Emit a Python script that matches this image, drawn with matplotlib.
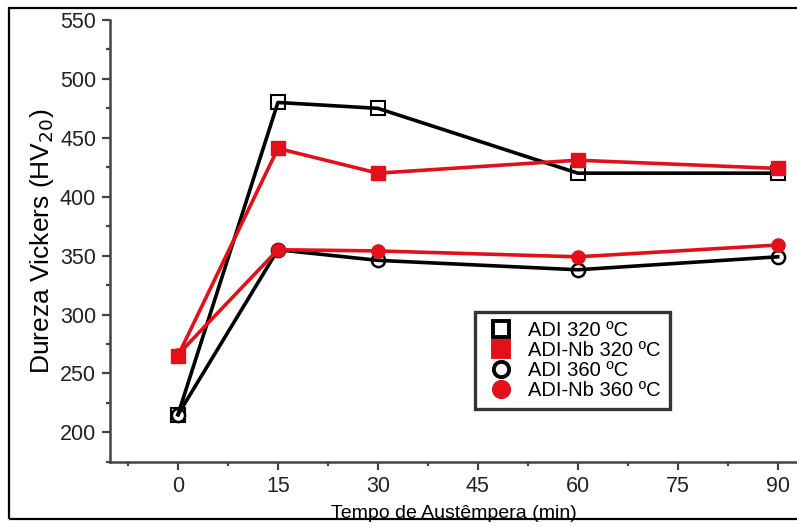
import numpy as np
import matplotlib
matplotlib.use("Agg")
import matplotlib.pyplot as plt
from matplotlib.patches import Rectangle
from matplotlib.ticker import MultipleLocator

plt.rcParams['font.family'] = ['Liberation Sans', 'DejaVu Sans']

# tempo de austêmpera (min) e dureza HV20
tempo = [0, 15, 30, 60, 90]
adi_320 = [215, 480, 475, 420, 420]
adi_nb_320 = [265, 441, 420, 431, 424]
adi_360 = [215, 355, 346, 338, 349]
adi_nb_360 = [266, 355, 354, 349, 359]

red = '#e3101a'

fig = plt.figure(figsize=(7.97, 5.26), dpi=100)
ax = fig.add_axes([0.138, 0.122, 0.862, 0.84])

ax.plot(tempo, adi_360, color='black', lw=2.6, marker='o', ms=9.5,
        mfc='none', mec='black', mew=1.8, label='ADI 360 ºC', zorder=3)
ax.plot(tempo, adi_320, color='black', lw=2.6, marker='s', ms=9.5,
        mfc='none', mec='black', mew=1.5, label='ADI 320 ºC', zorder=3)
ax.plot(tempo, adi_nb_360, color=red, lw=2.6, marker='o', ms=9.5,
        mfc=red, mec=red, label='ADI-Nb 360 ºC', zorder=4)
ax.plot(tempo, adi_nb_320, color=red, lw=2.6, marker='s', ms=9.5,
        mfc=red, mec=red, label='ADI-Nb 320 ºC', zorder=4)

ax.set_xlim(-10.2, 92.9)
ax.set_ylim(175, 550)
ax.xaxis.set_major_locator(MultipleLocator(15))
ax.xaxis.set_minor_locator(MultipleLocator(7.5))
ax.yaxis.set_major_locator(MultipleLocator(50))
ax.yaxis.set_minor_locator(MultipleLocator(25))
ax.set_yticks(np.arange(200, 551, 50))

for s in ['top', 'right']:
    ax.spines[s].set_visible(False)
for s in ['left', 'bottom']:
    ax.spines[s].set_color('#444444')
    ax.spines[s].set_linewidth(1.8)

ax.tick_params(which='major', direction='out', length=6, width=1.6,
               color='#444444', labelsize=15.5, labelcolor='#222222', pad=4)
ax.tick_params(which='minor', direction='out', length=3, width=1.6,
               color='#444444')

ax.set_xlabel('Tempo de Austêmpera (min)', fontsize=14, labelpad=6)
ax.set_ylabel('Dureza Vickers (HV$_{20}$)', fontsize=19, labelpad=3)

handles, labels = ax.get_legend_handles_labels()
order = [1, 3, 0, 2]
leg_handles = []
for i in order:
    h = handles[i]
    leg_handles.append(plt.Line2D([], [], ls='none', marker=h.get_marker(),
                                  ms=11, mfc=h.get_markerfacecolor(),
                                  mec=h.get_markeredgecolor(), mew=2.8))
leg = ax.legend(leg_handles, [labels[i] for i in order],
                loc='lower left', bbox_to_anchor=(0.531, 0.12),
                borderaxespad=0, fontsize=14.5, frameon=True, fancybox=False,
                handletextpad=0.5, labelspacing=0.05, borderpad=0.45,
                handlelength=1.7)
leg.get_frame().set_edgecolor('black')
leg.get_frame().set_linewidth(2.4)

# moldura da figura
fig.patches.append(Rectangle((9 / 797, 7 / 526), 1.2, 511 / 526,
                             transform=fig.transFigure, fill=False,
                             edgecolor='black', lw=1.6, zorder=10))

fig.savefig('out.png', dpi=100)
